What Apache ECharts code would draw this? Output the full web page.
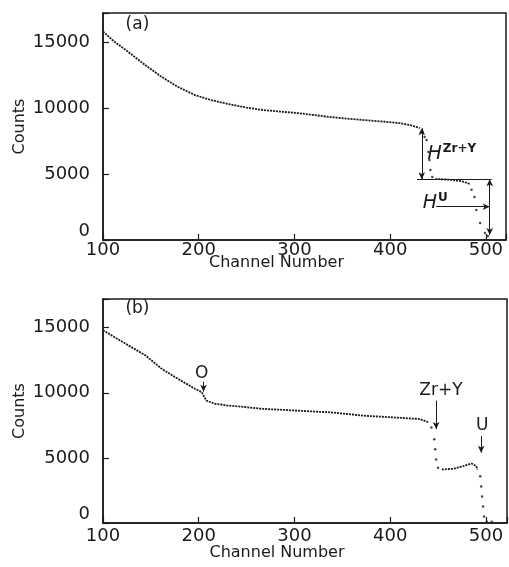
<!DOCTYPE html>
<html>
<head>
<meta charset="utf-8">
<script src="https://cdn.jsdelivr.net/npm/echarts@6/dist/echarts.min.js"></script>
<style>
  html, body { margin: 0; padding: 0; background: #fff; }
  #chart { width: 509px; height: 567px; }
</style>
</head>
<body>
<div id="chart"></div>
<script>
// panel (a): continuous trace (null = gap at the steps)
const chA  = [100, 102, 112, 126, 144, 161, 178, 196, 213, 231, 250, 267, 285, 303, 320, 337, 355, 372, 395, 410, 421, 431, null, 447, 455, 465, 475, 483];
const cntA = [15800, 15660, 15020, 14270, 13260, 12370, 11610, 10980, 10600, 10300, 10030, 9850, 9730, 9620, 9470, 9320, 9200, 9090, 8960, 8850, 8710, 8480, null, 4620, 4600, 4550, 4450, 4250];
// panel (a): isolated points on the edges
const edgeChA  = [434, 436, 438, 440, 441, 442, 444, 485, 488, 490, 494, 499, 502];
const edgeCntA = [8180, 7800, 7580, 6670, 6060, 5300, 4770, 3800, 3260, 2270, 1290, 530, 300];

// panel (b)
const chB  = [100, 102, 126, 144, 161, 178, 196, 203, 208, 217, 231, 250, 267, 285, 303, 320, 337, 355, 372, 403, 431, 440, null, 454, 466, 476, 485, 490, 491];
const cntB = [14800, 14700, 13660, 12890, 11860, 11080, 10310, 10050, 9400, 9150, 9020, 8890, 8760, 8700, 8630, 8560, 8500, 8370, 8240, 8110, 7980, 7730, null, 4110, 4160, 4360, 4570, 4360, 4110];
const edgeChB  = [443, 446, 447, 448, 450, 494, 495, 496, 497, 498, 501, 506];
const edgeCntB = [7340, 6430, 5660, 4880, 4240, 3590, 2810, 2040, 1260, 490, 100, 100];

const xTicks = [100, 200, 300, 400, 500];
const yTicks = [0, 5000, 10000, 15000];

// annotations (a): H lines
const hZrLine = [[433, 8460], [433, 4600]];
const hBase   = [[428, 4600], [506, 4600]];
const hULine  = [[504, 4600], [504, 380]];
const hUPtr   = [[448, 2520], [504, 2520]];
// annotations (b): arrows
const arrowO  = [[205, 10850], [205, 10080]];
const arrowZr = [[448, 9400], [448, 7210]];
const arrowU  = [[495, 6690], [495, 5400]];

const INK = '#1a1a1a';
const FONT = 'DejaVu Sans';

function zip(a, b) { return a.map((v, i) => [v, b[i]]); }

function seg(p, s0, s1) {
  return [{ coord: p[0], symbol: s0 }, { coord: p[1], symbol: s1 }];
}

function xAxis(idx, max, margin, gap) {
  return {
    type: 'value', gridIndex: idx, min: 100, max: max, interval: 100,
    name: 'Channel Number', nameLocation: 'middle', nameGap: gap, nameMoveOverlap: false,
    nameTextStyle: { fontFamily: FONT, fontSize: 16, color: INK, padding: [0, 56, 0, 0] },
    axisLine: { lineStyle: { color: INK, width: 1.5 } },
    axisTick: { inside: true, length: 6, lineStyle: { color: INK, width: 1.2 } },
    axisLabel: {
      fontFamily: FONT, fontSize: 18, color: INK, margin: margin,
      formatter: v => xTicks.indexOf(v) >= 0 ? String(v) : ''
    },
    splitLine: { show: false }
  };
}

function yAxis(idx) {
  return {
    type: 'value', gridIndex: idx, min: 0, max: 17200, interval: 5000,
    name: 'Counts', nameLocation: 'middle', nameGap: 75, nameRotate: 90, nameMoveOverlap: false,
    nameTextStyle: { fontFamily: FONT, fontSize: 16, color: INK },
    axisLine: { lineStyle: { color: INK, width: 1.5 } },
    axisTick: { inside: true, length: 6, lineStyle: { color: INK, width: 1.2 } },
    axisLabel: {
      fontFamily: FONT, fontSize: 18, color: INK, margin: 13,
      verticalAlignMinLabel: 'bottom',
      formatter: v => yTicks.indexOf(v) >= 0 ? String(v) : ''
    },
    splitLine: { show: false }
  };
}

const lineStyle = { color: INK, width: 1.8, type: [2, 1] };
const mlStyle = { color: INK, width: 1, type: 'solid' };
const textLabel = { show: true, fontFamily: FONT, fontSize: 16, color: INK };

const chart = echarts.init(document.getElementById('chart'), null, { renderer: 'canvas' });

chart.setOption({
  animation: false,
  backgroundColor: '#fff',
  grid: [
    { left: 103, right: 3, top: 13, height: 227, show: true, borderColor: INK, borderWidth: 1.5, outerBoundsMode: 'none', containLabel: false },
    { left: 103, right: 2, top: 299, height: 224, show: true, borderColor: INK, borderWidth: 1.5, outerBoundsMode: 'none', containLabel: false }
  ],
  xAxis: [xAxis(0, 521, 1, 15), xAxis(1, 522, 4, 22)],
  yAxis: [yAxis(0), yAxis(1)],
  series: [
    {
      type: 'line', xAxisIndex: 0, yAxisIndex: 0, data: zip(chA, cntA),
      symbol: 'none', connectNulls: false, lineStyle: lineStyle, silent: true,
      markLine: {
        silent: true, symbolSize: [5, 7], lineStyle: mlStyle, label: { show: false },
        data: [
          seg(hZrLine, 'arrow', 'arrow'),
          seg(hBase, 'none', 'none'),
          seg(hULine, 'arrow', 'arrow'),
          seg(hUPtr, 'none', 'arrow')
        ]
      },
      markPoint: {
        silent: true, symbol: 'circle', symbolSize: 0,
        data: [
          { coord: [136, 16300], label: Object.assign({}, textLabel, { formatter: '(a)', position: 'inside', fontSize: 17 }) },
          {
            coord: [439, 6500],
            label: {
              show: true, position: 'right', distance: 0, formatter: '{h|H}{s|Zr+Y}',
              rich: {
                h: { fontFamily: FONT, fontSize: 19, fontStyle: 'italic', color: INK, lineHeight: 22 },
                s: { fontFamily: FONT, fontSize: 12, fontWeight: 'bold', color: INK, verticalAlign: 'top', padding: [0, 0, 10, 1] }
              }
            }
          },
          {
            coord: [434, 2800],
            label: {
              show: true, position: 'right', distance: 0, formatter: '{h|H}{s|U}',
              rich: {
                h: { fontFamily: FONT, fontSize: 19, fontStyle: 'italic', color: INK, lineHeight: 22 },
                s: { fontFamily: FONT, fontSize: 12, fontWeight: 'bold', color: INK, verticalAlign: 'top', padding: [0, 0, 10, 1] }
              }
            }
          }
        ]
      }
    },
    {
      type: 'scatter', xAxisIndex: 0, yAxisIndex: 0, data: zip(edgeChA, edgeCntA),
      symbolSize: 2.5, itemStyle: { color: INK }, silent: true
    },
    {
      type: 'line', xAxisIndex: 1, yAxisIndex: 1, data: zip(chB, cntB),
      symbol: 'none', connectNulls: false, lineStyle: lineStyle, silent: true,
      markLine: {
        silent: true, symbolSize: [5, 7], lineStyle: mlStyle, label: { show: false },
        data: [
          seg(arrowO, 'none', 'arrow'),
          seg(arrowZr, 'none', 'arrow'),
          seg(arrowU, 'none', 'arrow')
        ]
      },
      markPoint: {
        silent: true, symbol: 'circle', symbolSize: 0,
        data: [
          { coord: [136, 16500], label: Object.assign({}, textLabel, { formatter: '(b)', position: 'inside', fontSize: 17 }) },
          { coord: [203, 11500], label: Object.assign({}, textLabel, { formatter: 'O', position: 'inside', fontSize: 17 }) },
          { coord: [453, 10200], label: Object.assign({}, textLabel, { formatter: 'Zr+Y', position: 'inside', fontSize: 17 }) },
          { coord: [496, 7500], label: Object.assign({}, textLabel, { formatter: 'U', position: 'inside', fontSize: 17 }) }
        ]
      }
    },
    {
      type: 'scatter', xAxisIndex: 1, yAxisIndex: 1, data: zip(edgeChB, edgeCntB),
      symbolSize: 2.5, itemStyle: { color: INK }, silent: true
    }
  ]
});
</script>
</body>
</html>
